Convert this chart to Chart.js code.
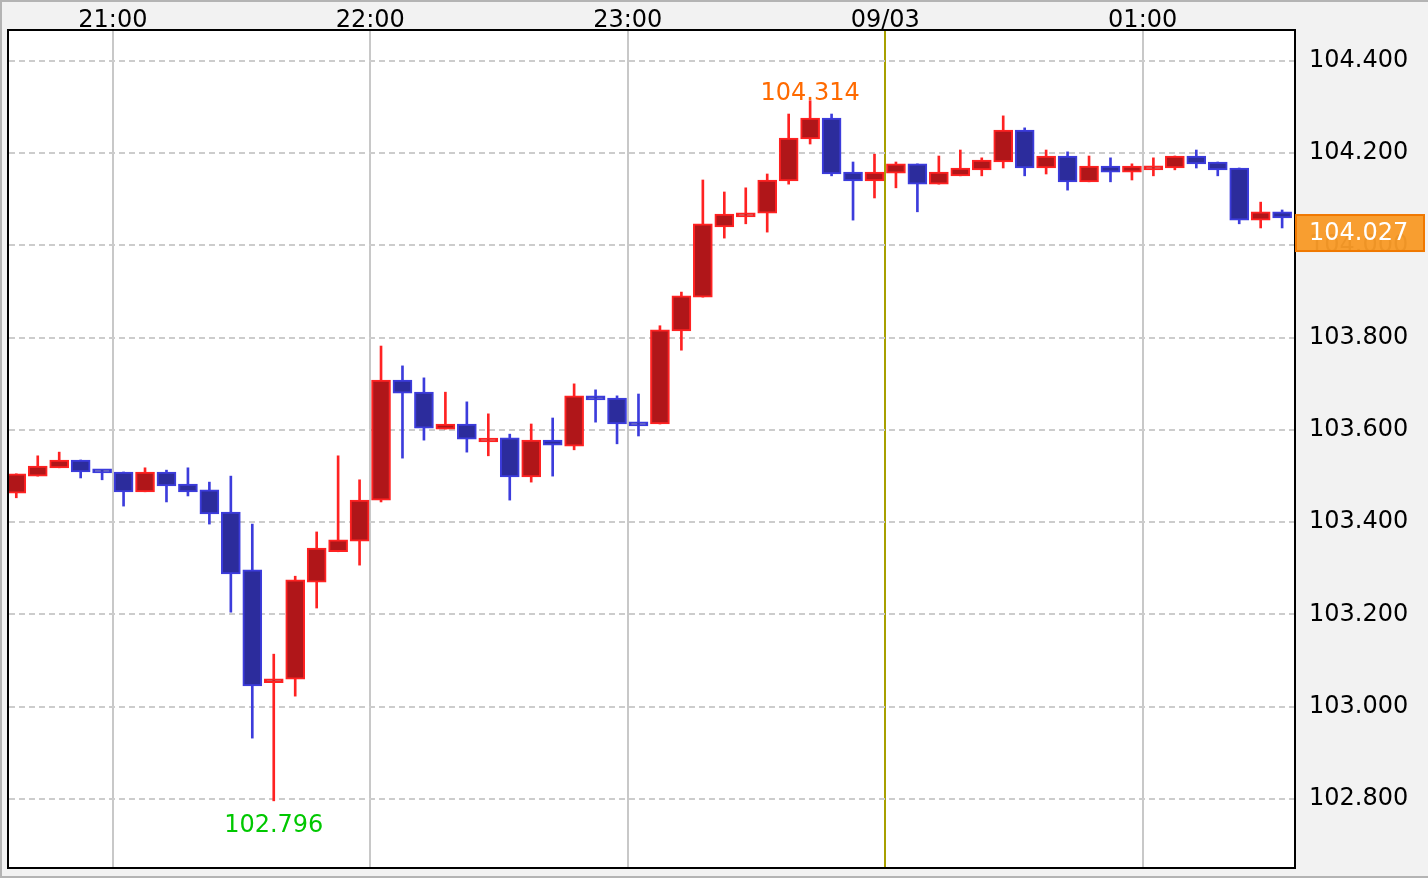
<!DOCTYPE html>
<html>
<head>
<meta charset="utf-8">
<script src="https://cdn.jsdelivr.net/npm/chart.js@4.4.0/dist/chart.umd.min.js"></script>
<style>
  html, body { margin: 0; padding: 0; background: #f2f2f2; }
  canvas { display: block; }
</style>
</head>
<body>
<canvas id="chart_candles" width="1428" height="878"></canvas>
<script>
// 5 minute candles, 20:35 .. 01:30
const times = ['20:35','20:40','20:45','20:50','20:55','21:00','21:05','21:10','21:15','21:20',
  '21:25','21:30','21:35','21:40','21:45','21:50','21:55','22:00','22:05','22:10',
  '22:15','22:20','22:25','22:30','22:35','22:40','22:45','22:50','22:55','23:00',
  '23:05','23:10','23:15','23:20','23:25','23:30','23:35','23:40','23:45','23:50',
  '23:55','00:00','00:05','00:10','00:15','00:20','00:25','00:30','00:35','00:40',
  '00:45','00:50','00:55','01:00','01:05','01:10','01:15','01:20','01:25','01:30'];
const opens = [103.463,103.500,103.518,103.535,103.513,103.509,103.466,103.509,103.483,103.470,
  103.422,103.297,103.052,103.060,103.270,103.336,103.359,103.448,103.708,103.682,
  103.602,103.613,103.574,103.583,103.498,103.578,103.565,103.674,103.669,103.617,
  103.613,103.815,103.888,104.040,104.062,104.070,104.140,104.231,104.276,104.159,
  104.140,104.157,104.177,104.133,104.151,104.164,104.181,104.250,104.168,104.194,
  104.138,104.172,104.159,104.164,104.168,104.194,104.181,104.168,104.055,104.073];
const closes = [103.505,103.522,103.535,103.509,103.507,103.466,103.509,103.479,103.466,103.418,
  103.288,103.045,103.056,103.275,103.344,103.362,103.448,103.708,103.680,103.604,
  103.613,103.580,103.577,103.498,103.578,103.567,103.674,103.665,103.613,103.609,
  103.817,103.891,104.047,104.068,104.066,104.142,104.233,104.276,104.155,104.140,
  104.159,104.177,104.133,104.159,104.168,104.185,104.250,104.168,104.194,104.138,
  104.172,104.159,104.172,104.170,104.194,104.177,104.164,104.055,104.073,104.060];
const highs = [103.505,103.544,103.552,103.535,103.513,103.509,103.518,103.513,103.518,103.487,
  103.500,103.396,103.114,103.283,103.379,103.544,103.492,103.782,103.739,103.713,
  103.682,103.661,103.635,103.591,103.613,103.626,103.700,103.687,103.674,103.678,
  103.826,103.899,104.142,104.116,104.125,104.155,104.285,104.314,104.285,104.181,
  104.198,104.181,104.177,104.194,104.207,104.190,104.281,104.255,104.207,104.203,
  104.194,104.190,104.177,104.190,104.194,104.207,104.181,104.168,104.094,104.077];
const lows = [103.453,103.500,103.518,103.496,103.492,103.435,103.466,103.444,103.457,103.396,
  103.205,102.932,102.796,103.023,103.214,103.336,103.307,103.444,103.539,103.578,
  103.602,103.552,103.544,103.448,103.487,103.500,103.557,103.617,103.570,103.587,
  103.613,103.773,103.888,104.016,104.047,104.029,104.133,104.220,104.151,104.055,
  104.103,104.125,104.073,104.133,104.151,104.151,104.168,104.151,104.155,104.120,
  104.138,104.138,104.142,104.151,104.164,104.168,104.151,104.047,104.038,104.038];
const timeTicks = [60, 120, 180, 240, 300];   // minutes after 20:00
const timeLabels = ['21:00', '22:00', '23:00', '09/03', '01:00'];
const priceTicks = [102.8, 103.0, 103.2, 103.4, 103.6, 103.8, 104.0, 104.2, 104.4];
const lastPrice = 104.027;

const FONT = '"DejaVu Sans", sans-serif';
const UP_LINE = '#ff2222', UP_FILL = '#b01619';
const DN_LINE = '#3c3cdc', DN_FILL = '#2c2c9c';

// minutes after 20:00, centre of the 5 minute bar
function toX(t) {
  let h = parseInt(t.slice(0, 2)), m = parseInt(t.slice(3));
  if (h < 12) h += 24;
  return (h - 20) * 60 + m + 2.5;
}

const isUp = closes.map((c, i) => c >= opens[i]);
const bodyData = times.map((t, i) => ({x: toX(t), y: [opens[i], closes[i]]}));
const wickData = times.map((t, i) => ({x: toX(t), y: [lows[i], highs[i]]}));

const framePlugin = {
  id: 'frame',
  beforeDraw(chart) {
    const {ctx, chartArea: a} = chart;
    ctx.save();
    ctx.fillStyle = '#f2f2f2';
    ctx.fillRect(0, 0, chart.width, chart.height);
    ctx.fillStyle = '#ffffff';
    ctx.fillRect(a.left, a.top, a.right - a.left, a.bottom - a.top);
    ctx.restore();
  },
  afterDraw(chart) {
    const {ctx, chartArea: a, scales} = chart;
    const y = scales.y, x = scales.x;
    ctx.save();
    // plot border
    ctx.strokeStyle = '#000';
    ctx.lineWidth = 2;
    ctx.strokeRect(a.left - 1, a.top - 1, a.right - a.left + 1, a.bottom - a.top + 1);
    // outer frame
    ctx.strokeStyle = '#b4b4b4';
    ctx.beginPath();
    ctx.moveTo(1, chart.height);
    ctx.lineTo(1, 1);
    ctx.lineTo(chart.width, 1);
    ctx.moveTo(0, chart.height - 1);
    ctx.lineTo(chart.width, chart.height - 1);
    ctx.stroke();

    // high / low labels
    ctx.font = '24px ' + FONT;
    ctx.textAlign = 'center';
    ctx.textBaseline = 'alphabetic';
    const hi = highs.indexOf(Math.max(...highs));
    const lo = lows.indexOf(Math.min(...lows));
    ctx.fillStyle = '#ff6a00';
    ctx.fillText(highs[hi].toFixed(3), x.getPixelForValue(toX(times[hi])), y.getPixelForValue(highs[hi]) - 1);
    ctx.fillStyle = '#00c800';
    ctx.fillText(lows[lo].toFixed(3), x.getPixelForValue(toX(times[lo])), y.getPixelForValue(lows[lo]) + 31);

    // current price box
    const py = y.getPixelForValue(lastPrice);
    ctx.fillStyle = 'rgba(248,154,40,0.96)';
    ctx.fillRect(a.right, py - 18, 129, 36);
    ctx.strokeStyle = '#f07800';
    ctx.lineWidth = 2;
    ctx.strokeRect(a.right + 1, py - 18, 128, 36);
    ctx.fillStyle = '#ffffff';
    ctx.textAlign = 'left';
    ctx.textBaseline = 'middle';
    ctx.fillText(lastPrice.toFixed(3), a.right + 14, py + 1);
    ctx.restore();
  }
};

new Chart(document.getElementById('chart_candles'), {
  type: 'bar',
  data: {
    datasets: [{
      label: 'body',
      data: bodyData,
      order: 0,
      grouped: false,
      barThickness: 19,
      minBarLength: 4,
      borderWidth: 2,
      borderSkipped: false,
      backgroundColor: isUp.map(u => u ? UP_FILL : DN_FILL),
      borderColor: isUp.map(u => u ? UP_LINE : DN_LINE)
    }, {
      label: 'wick',
      data: wickData,
      order: 1,
      grouped: false,
      barThickness: 2,
      borderWidth: 0,
      backgroundColor: isUp.map(u => u ? UP_LINE : DN_LINE)
    }]
  },
  options: {
    responsive: false,
    devicePixelRatio: 1,
    animation: false,
    layout: {padding: {left: 9, right: 0, top: 0, bottom: 10}},
    plugins: {legend: {display: false}, tooltip: {enabled: false}},
    scales: {
      x: {
        type: 'linear',
        position: 'top',
        offset: false,
        min: 35.8,
        max: 335.5,
        afterBuildTicks: s => { s.ticks = timeTicks.map(v => ({value: v})); },
        afterFit: s => { s.height = 31; s.paddingLeft = 0; s.paddingRight = 0; },
        ticks: {
          padding: -4,
          maxRotation: 0,
          autoSkip: false,
          color: '#000',
          font: {family: FONT, size: 24},
          callback: v => timeLabels[timeTicks.indexOf(v)]
        },
        grid: {
          offset: false,
          drawTicks: false,
          lineWidth: 2,
          color: c => (c.tick && c.tick.value === 240) ? '#a8a000' : '#c8c8c8'
        },
        border: {display: false}
      },
      y: {
        position: 'right',
        min: 102.6504,
        max: 104.465,
        afterBuildTicks: s => { s.ticks = priceTicks.map(v => ({value: v})); },
        afterFit: s => { s.width = 133; s.paddingTop = 0; s.paddingBottom = 0; },
        ticks: {
          padding: 14,
          color: '#000',
          font: {family: FONT, size: 24},
          callback: v => v.toFixed(3)
        },
        grid: {drawTicks: false, lineWidth: 2, color: '#cccccc'},
        border: {display: false, dash: [6, 4]}
      }
    }
  },
  plugins: [framePlugin]
});
</script>
</body>
</html>
